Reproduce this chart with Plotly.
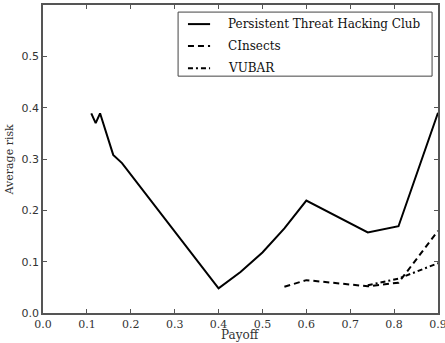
import plotly.graph_objects as go

# Average risk versus payoff for three groups
phc_payoff = [0.11, 0.12, 0.13, 0.16, 0.18, 0.40, 0.45, 0.50, 0.55, 0.60, 0.74, 0.81, 0.90]
phc_risk = [0.389, 0.370, 0.389, 0.308, 0.292, 0.048, 0.080, 0.118, 0.165, 0.219, 0.157, 0.169, 0.390]

cin_payoff = [0.55, 0.60, 0.74, 0.81, 0.90]
cin_risk = [0.051, 0.064, 0.052, 0.059, 0.160]

vubar_payoff = [0.74, 0.81, 0.90]
vubar_risk = [0.054, 0.067, 0.097]

x_ticks = [0.0, 0.1, 0.2, 0.3, 0.4, 0.5, 0.6, 0.7, 0.8, 0.9]
y_ticks = [0.0, 0.1, 0.2, 0.3, 0.4, 0.5]

serif = "DejaVu Serif, Liberation Serif, serif"
sans = "DejaVu Sans, sans-serif"
axis_col = "#555555"

series = [
    ("Persistent Threat Hacking Club", phc_payoff, phc_risk, "solid"),
    ("CInsects", cin_payoff, cin_risk, "6px,4px"),
    ("VUBAR", vubar_payoff, vubar_risk, "5px,3px,2px,3px"),
]

fig = go.Figure()
for name, xs, ys, dash in series:
    fig.add_trace(go.Scatter(x=xs, y=ys, mode="lines", name=name, showlegend=False,
                             line=dict(color="black", width=2, dash=dash)))

# Boxed key in the upper right of the plot area
shapes = [dict(type="rect", xref="paper", yref="paper",
               x0=0.342, x1=0.985, y0=0.769, y1=0.977,
               line=dict(color="#444444", width=1), fillcolor="white", layer="above")]
annotations = []
row_y = [0.938, 0.867, 0.795]
for (name, _, _, dash), yy in zip(series, row_y):
    shapes.append(dict(type="line", xref="paper", yref="paper",
                       x0=0.367, x1=0.423, y0=yy, y1=yy, layer="above",
                       line=dict(color="black", width=2, dash=dash)))
    annotations.append(dict(text=name, xref="paper", yref="paper", x=0.463, y=yy,
                            xanchor="left", yanchor="middle", showarrow=False,
                            font=dict(family=serif, size=12, color="#111111")))

# Axis titles placed just outside the plot frame
annotations.append(dict(text="Payoff", xref="paper", yref="paper", x=0.5, y=-0.072,
                        xanchor="center", yanchor="middle", showarrow=False,
                        font=dict(family=serif, size=12, color="#333333")))
annotations.append(dict(text="Average risk", xref="paper", yref="paper", x=-0.085, y=0.5,
                        xanchor="center", yanchor="middle", showarrow=False, textangle=-90,
                        font=dict(family=serif, size=11, color="#333333")))

fig.update_layout(
    width=445, height=343,
    margin=dict(l=43, r=7, t=5, b=30, autoexpand=False),
    paper_bgcolor="white", plot_bgcolor="white",
    shapes=shapes, annotations=annotations,
)
fig.update_xaxes(range=[0, 0.9], tickvals=x_ticks,
                 ticktext=[f"{v:.1f}" for v in x_ticks],
                 showgrid=False, zeroline=False, ticklabeloverflow="allow", automargin=False,
                 showline=True, linecolor=axis_col, linewidth=1.5, mirror="ticks",
                 ticks="inside", ticklen=4, tickcolor=axis_col,
                 tickfont=dict(family=serif, size=11, color="#333333"))
fig.update_yaxes(range=[0, 0.6], tickvals=y_ticks,
                 ticktext=[f"{v:.1f}" for v in y_ticks],
                 showgrid=False, zeroline=False, automargin=False,
                 showline=True, linecolor=axis_col, linewidth=1.5, mirror="ticks",
                 ticks="inside", ticklen=4, tickcolor=axis_col,
                 tickfont=dict(family=sans, size=11, color="#333333"))

fig.write_html("out.html")
